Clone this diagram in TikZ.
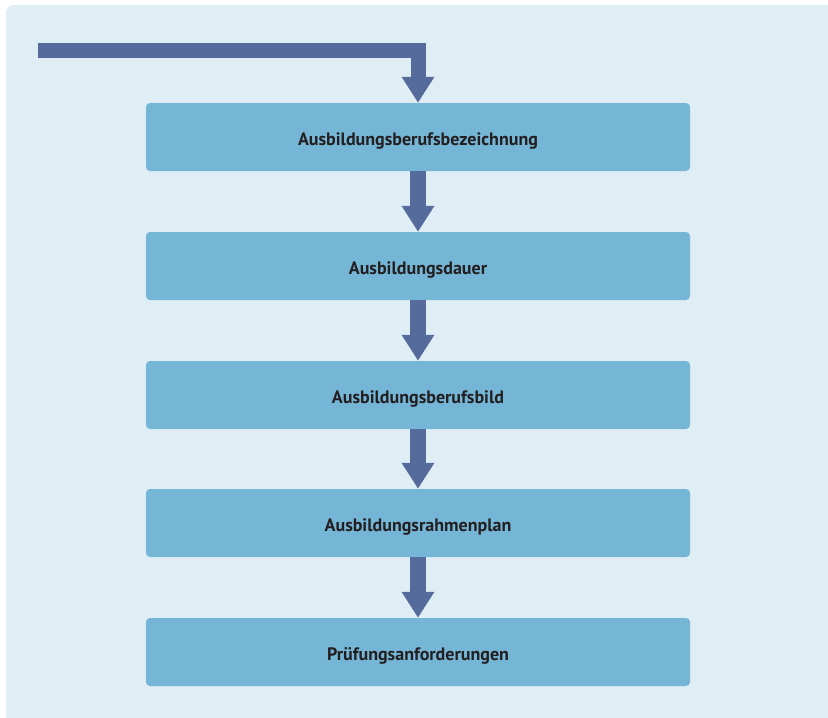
\documentclass[tikz,border=0pt]{standalone}
\usepackage{fontspec}
\setmainfont{PT Sans}
\usetikzlibrary{arrows.meta}
\definecolor{panel}{HTML}{DFEEF5}
\definecolor{boxfill}{HTML}{75B5D6}
\definecolor{arrowc}{HTML}{546B9B}
\definecolor{txt}{HTML}{231F20}
\begin{document}
\begin{tikzpicture}[x=1pt,y=-1pt,
  stepbox/.style={fill=boxfill, rounded corners=4pt, minimum width=544pt, minimum height=68pt,
    inner sep=0pt, text height=16pt, text depth=0pt, text=txt, font=\fontsize{18}{21}\selectfont\bfseries},
  flow/.style={draw=arrowc, line width=16pt, line join=miter,
    -{Triangle[width=31pt,length=26pt]}}]
\useasboundingbox (0,0) rectangle (828,718);
\begin{scope}
\clip (0,0) rectangle (828,718);
\fill[panel, rounded corners=8pt] (6,5) rectangle (840,730);
\end{scope}
\node[stepbox] (b1) at (418,137) {Ausbildungsberufsbezeichnung};
\node[stepbox] (b2) at (418,266) {Ausbildungsdauer};
\node[stepbox] (b3) at (418,395) {Ausbildungsberufsbild};
\node[stepbox] (b4) at (418,523) {Ausbildungsrahmenplan};
\node[stepbox] (b5) at (418,652) {Prüfungsanforderungen};
\coordinate (start) at (38,50);
\draw[flow, line width=15pt] (start) -| (b1.north);
\draw[flow] (b1.south) -- (b2.north);
\draw[flow] (b2.south) -- (b3.north);
\draw[flow] (b3.south) -- (b4.north);
\draw[flow] (b4.south) -- (b5.north);
\end{tikzpicture}
\end{document}
